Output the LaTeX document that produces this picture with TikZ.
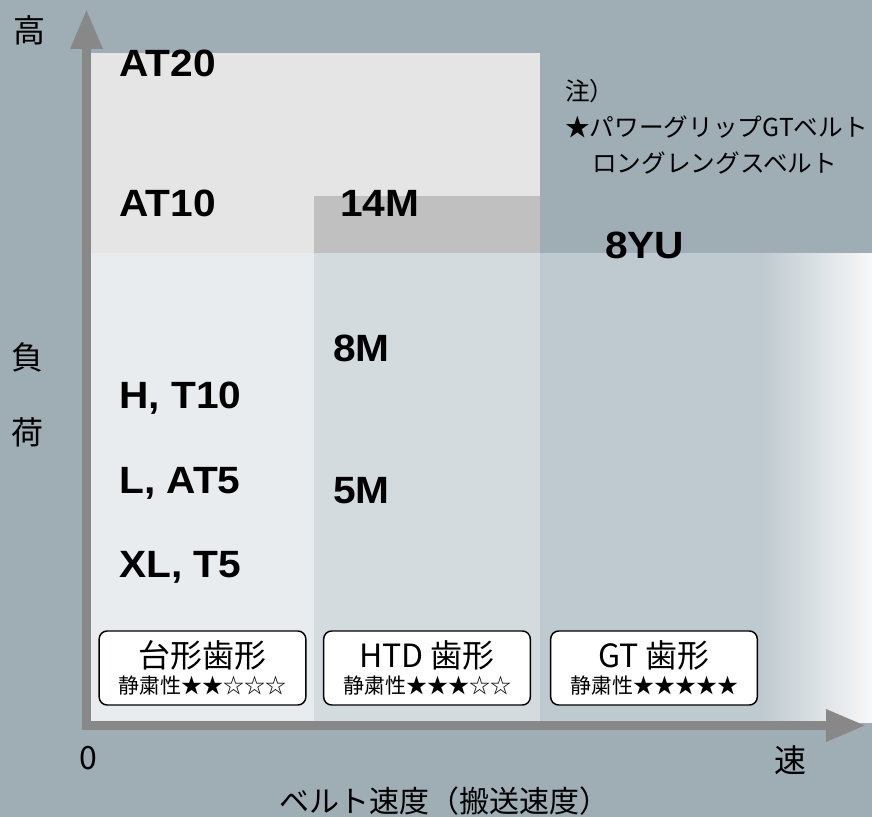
\documentclass[tikz,border=0pt]{standalone}
\usepackage{fontspec}
\usepackage{tikz}
\usetikzlibrary{arrows.meta}
\setmainfont{Noto Sans CJK JP}
\newfontfamily\beltfont[FakeStretch=1.07]{Liberation Sans}

\definecolor{bgcol}{HTML}{9FADB5}
\definecolor{topgray}{HTML}{E5E5E5}
\definecolor{colA}{HTML}{E8ECEF}
\definecolor{colB}{HTML}{D3DBDF}
\definecolor{colC}{HTML}{BFCAD0}
\definecolor{fadecol}{HTML}{F7F8F9}
\definecolor{blk14}{HTML}{BFC0BF}
\definecolor{axiscol}{HTML}{888888}

\begin{document}
\begin{tikzpicture}[x=0.75pt,y=-0.75pt,
	belt/.style={anchor=base west,inner sep=0pt,font=\beltfont\bfseries\fontsize{28.5}{30}\selectfont},
	note/.style={anchor=base west,inner sep=0pt,font=\fontsize{18.5}{20}\selectfont},
	tooth/.style={draw=black,line width=1.1pt,fill=white,rounded corners=6pt,minimum width=155pt,minimum height=55.5pt,inner sep=0pt,align=center,font=\fontsize{15.75}{19.5}\selectfont},
	axlab/.style={inner sep=0pt,font=\fontsize{24}{24}\selectfont},
	axis/.style={draw=axiscol,line width=6.75pt,>={Triangle[length=30pt,width=22.5pt]},<->}]
	\fill[bgcol] (0,0) rectangle (872,817);
	\fill[topgray] (91,53) rectangle (540,253);
	\fill[colA] (91,253) rectangle (314,722);
	\fill[colB] (314,253) rectangle (540,722);
	\fill[colC] (540,253) rectangle (762,722);
	\shade[left color=colC,right color=fadecol] (762,253) rectangle (872,722);
	\fill[blk14] (314,196) rectangle (540,253);

	\coordinate (O) at (86.5,725.5);
	\coordinate (ytip) at (86.5,9);
	\coordinate (xtip) at (866,725.5);
	\draw[axis] (ytip) -- (O) -- (xtip);

	\node[belt] (at20) at (119,77) {AT20};
	\node[belt] (at10) at (119,216) {AT10};
	\node[belt] (m14) at (340,216) {14M};
	\node[belt] (yu8) at (605,258) {8YU};
	\node[belt] (m8) at (333,361) {8M};
	\node[belt] (ht10) at (119,408) {H, T10};
	\node[belt] (lat5) at (119,493) {L, AT5};
	\node[belt] (m5) at (333,503) {5M};
	\node[belt] (xlt5) at (119,577) {XL, T5};

	\node[note] (note1) at (565,101) {注）};
	\node[note] (note2) at (565,137) {★パワーグリップGTベルト};
	\node[note] (note3) at (592,172) {ロングレングスベルト};

	\node[tooth] (trap) at (202.5,668) {{\fontsize{24}{19.5}\selectfont 台形歯形}\\静粛性★★☆☆☆};
	\node[tooth] (htd) at (427,668) {{\fontsize{24}{19.5}\selectfont HTD 歯形}\\静粛性★★★☆☆};
	\node[tooth] (gt) at (654,668) {{\fontsize{24}{19.5}\selectfont GT 歯形}\\静粛性★★★★★};

	\node[axlab] (hi) at (29,30) {高};
	\node[axlab] (fu) at (28,357) {負};
	\node[axlab] (ka) at (28,432) {荷};
	\node[axlab] (zero) at (88,758) {0};
	\node[axlab] (fast) at (790,760) {速};
	\node[axlab,font=\fontsize{22.5}{24}\selectfont] (speed) at (444,801) {ベルト速度（搬送速度）};
\end{tikzpicture}
\end{document}
